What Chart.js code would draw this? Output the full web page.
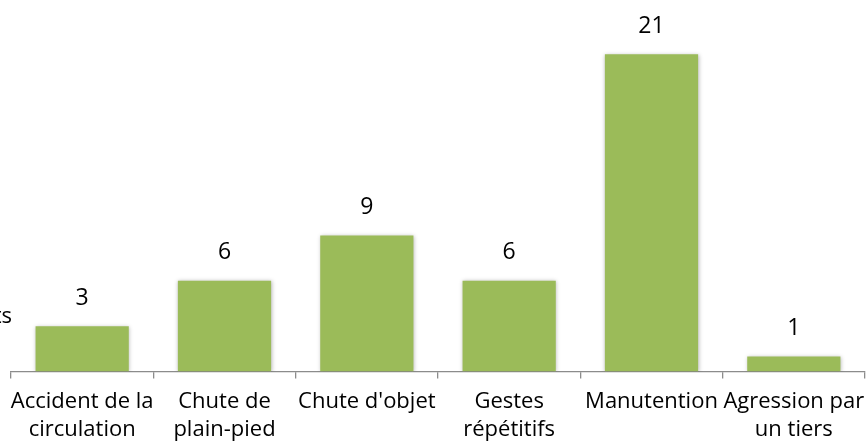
<!DOCTYPE html>
<html>
<head>
<meta charset="utf-8">
<script src="https://cdn.jsdelivr.net/npm/chart.js@4.4.0/dist/chart.umd.min.js"></script>
<style>
  html, body { margin: 0; padding: 0; background: #fff; }
  #wrap { width: 866px; height: 441px; }
</style>
</head>
<body>
<div id="wrap"><canvas id="myChart" width="866" height="441"></canvas></div>
<script>
// data
const categories = [
    ["Accident de la", "circulation"],
    ["Chute de", "plain-pied"],
    "Chute d'objet",
    ["Gestes", "répétitifs"],
    "Manutention",
    ["Agression par", "un tiers"]
];
const accidents = [3, 6, 9, 6, 21, 1];
const seriesName = "Nombre d'accidents";

const BAR_GREEN = "#9BBB59";
const FONT = "'Open Sans', 'Noto Sans', sans-serif";

// soft shadow round the bars
const barShadow = {
    id: 'barShadow',
    beforeDatasetsDraw(chart) {
        const ctx = chart.ctx;
        ctx.save();
        ctx.shadowColor = 'rgba(0, 0, 0, 0.28)';
        ctx.shadowBlur = 4;
        ctx.shadowOffsetX = 0.5;
        ctx.shadowOffsetY = 0.5;
    },
    afterDatasetsDraw(chart) {
        chart.ctx.restore();
    }
};

// value labels above each bar
const valueLabels = {
    id: 'valueLabels',
    afterDatasetsDraw(chart) {
        const ctx = chart.ctx;
        const meta = chart.getDatasetMeta(0);
        ctx.save();
        ctx.fillStyle = '#000';
        ctx.font = "23px " + FONT;
        ctx.textAlign = 'center';
        ctx.textBaseline = 'middle';
        meta.data.forEach(function (bar, i) {
            ctx.fillText(String(accidents[i]), bar.x, bar.y - 28);
        });
        ctx.restore();
    }
};

// series name, mostly cut off at the left edge
const seriesTitle = {
    id: 'seriesTitle',
    afterDraw(chart) {
        const ctx = chart.ctx;
        ctx.save();
        ctx.fillStyle = '#000';
        ctx.font = "22px " + FONT;
        ctx.textAlign = 'right';
        ctx.textBaseline = 'middle';
        ctx.fillText(seriesName, 12, 317);
        ctx.restore();
    }
};

const ctx = document.getElementById('myChart').getContext('2d');
const myChart = new Chart(ctx, {
    type: 'bar',
    data: {
        labels: categories,
        datasets: [{
            label: seriesName,
            data: accidents,
            backgroundColor: BAR_GREEN,
            borderWidth: 0,
            barPercentage: 0.655,
            categoryPercentage: 1.0
        }]
    },
    options: {
        responsive: false,
        animation: false,
        layout: { padding: { top: 24, left: 11, right: 1, bottom: 0 } },
        plugins: {
            legend: { display: false },
            tooltip: { enabled: false }
        },
        scales: {
            x: {
                offset: true,
                grid: {
                    offset: true,
                    drawOnChartArea: false,
                    drawTicks: true,
                    tickLength: 7,
                    color: '#8c8c8c',
                    lineWidth: 1.3
                },
                border: { display: true, color: '#8c8c8c', width: 1.3 },
                ticks: {
                    color: '#000',
                    font: { family: FONT, size: 22, lineHeight: 1.27 },
                    padding: 9.5,
                    maxRotation: 0,
                    autoSkip: false
                },
                afterFit(scale) {
                    scale.height = 69.5;
                    // labels may spill past the edges, as in the original
                    scale.paddingLeft = 0;
                    scale.paddingRight = 0;
                }
            },
            y: {
                display: false,
                min: 0,
                max: 23
            }
        }
    },
    plugins: [barShadow, valueLabels, seriesTitle]
});
</script>
</body>
</html>
